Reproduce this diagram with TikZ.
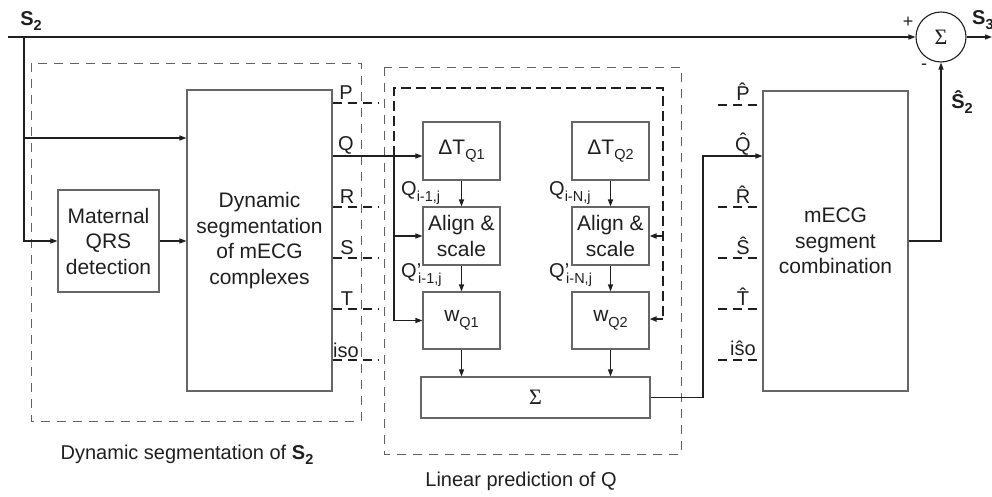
\documentclass[tikz,border=0pt]{standalone}
\usepackage{fontspec}
\setmainfont{Liberation Sans}
\newfontfamily\seriffam{Liberation Serif}
\usetikzlibrary{arrows.meta}
\newcommand\fsz[1]{\fontsize{#1}{#1}\selectfont}
\newcommand\sbs[1]{\raisebox{-0.5ex}{\fsz{14.5}#1}}
\newcommand\prm{’\kern-3pt}
\begin{document}
\begin{tikzpicture}[x=1pt,y=-1pt,
  every node/.style={text=black!88},
  blk/.style={draw=black!60, line width=1.1pt, inner sep=0pt, align=center,
    font=\fontsize{21}{25.5}\selectfont},
  lbl/.style={inner sep=0pt, font=\fsz{20}},
  ln/.style={draw=black!88, line width=1.1pt},
  tip/.style={-{Triangle[length=7pt,width=5pt]}},
  arr/.style={ln, tip},
  dsh/.style={draw=black!88, line width=1.8pt, dash pattern=on 9pt off 6pt},
  thk/.style={draw=black!88, line width=2pt, dash pattern=on 10pt off 5pt},
  grp/.style={draw=black!62, line width=0.9pt, dash pattern=on 9pt off 7pt},
]
\useasboundingbox (0,0) rectangle (992,497);

% group boxes
\draw[grp] (31,63) rectangle (361,421);
\draw[grp] (384,67) rectangle (681,454);
\node[lbl, font=\fsz{20}] (gl1) at (187,455) {Dynamic segmentation of \textbf{S}\sbs{\textbf{2}}};
\node[lbl, font=\fsz{20}] (gl2) at (521,481) {Linear prediction of Q};

% blocks
\node[blk, minimum width=101pt, minimum height=102pt] (mqrs) at (108.5,241) {Maternal\\QRS\\detection};
\node[blk, minimum width=145pt, minimum height=301pt] (dseg) at (259.5,240.5) {Dynamic\\segmentation\\of mECG\\complexes};
\node[blk, minimum width=77pt, minimum height=58pt] (dt1) at (461.5,151) {ΔT\sbs{Q1}};
\node[blk, minimum width=77pt, minimum height=58pt] (dt2) at (610.5,151) {ΔT\sbs{Q2}};
\node[blk, minimum width=77pt, minimum height=58pt] (al1) at (461.5,236) {Align \&\\scale};
\node[blk, minimum width=77pt, minimum height=58pt] (al2) at (610.5,236) {Align \&\\scale};
\node[blk, minimum width=77pt, minimum height=57pt] (w1) at (461.5,320.5) {w\sbs{Q1}};
\node[blk, minimum width=77pt, minimum height=57pt] (w2) at (610.5,320.5) {w\sbs{Q2}};
\node[blk, minimum width=229pt, minimum height=41pt] (sig) at (535.5,397.5) {\seriffam\fsz{22}Σ};
\node[blk, minimum width=145pt, minimum height=300pt] (comb) at (835.5,241) {mECG\\segment\\combination};
\node[draw=black!88, line width=1.1pt, circle, minimum size=50pt, inner sep=0pt] (circ) at (941,37) {\seriffam\fsz{22}Σ};

% signal labels
\node[lbl, font=\bfseries\fsz{20}] (s2) at (31,21) {S\sbs{2}};
\node[lbl, font=\bfseries\fsz{20}, anchor=west] (s3) at (972,20) {S\sbs{3}};
\node[lbl, font=\fsz{18}] (plus) at (908,22) {+};
\node[lbl, font=\fsz{18}] (minus) at (924,67) {-};
\node[lbl, font=\bfseries\fsz{20}] (s2h) at (962,102) {\^S\sbs{2}};

% dseg output labels
\node[lbl] (lP) at (346,93) {P};
\node[lbl] (lQ) at (346,145) {Q};
\node[lbl] (lR) at (347,197) {R};
\node[lbl] (lS) at (347,248) {S};
\node[lbl] (lT) at (347,299) {T};
\node[lbl] (liso) at (346,350) {iso};

% comb input labels
\node[lbl] (hP) at (743,92) {\^P};
\node[lbl] (hQ) at (743,144) {\^Q};
\node[lbl] (hR) at (743,195) {\^R};
\node[lbl] (hS) at (743,246) {\^S};
\node[lbl] (hT) at (743,297) {\^T};
\node[lbl] (hiso) at (743,348) {i\^so};

% Q labels
\node[lbl, anchor=west] (q1) at (401,193) {Q\sbs{i-1,j}};
\node[lbl, anchor=west] (q1p) at (401,275) {Q\prm\sbs{i-1,j}};
\node[lbl, anchor=west] (q2) at (549,193) {Q\sbs{i-N,j}};
\node[lbl, anchor=west] (q2p) at (549,275) {Q\prm\sbs{i-N,j}};

% coordinates
\coordinate (in) at (8,37);
\coordinate (j1) at (24,37);
\coordinate (j2) at (24,138);
\coordinate (yP) at (0,103);
\coordinate (yQ) at (0,156);
\coordinate (yR) at (0,207);
\coordinate (yS) at (0,258);
\coordinate (yT) at (0,309);
\coordinate (yI) at (0,360);
\coordinate (eP) at (379,103);
\coordinate (eR) at (379,207);
\coordinate (eS) at (379,258);
\coordinate (eT) at (379,309);
\coordinate (eI) at (379,360);
\coordinate (jq) at (394,156);
\coordinate (ja1) at (394,236);
\coordinate (jw1) at (394,320.5);
\coordinate (tl) at (394,88);
\coordinate (tr) at (663,88);
\coordinate (ja2) at (663,236);
\coordinate (br) at (663,319);
\coordinate (jc) at (703,397.5);
\coordinate (sP) at (718,105);
\coordinate (sR) at (718,207);
\coordinate (sS) at (718,258);
\coordinate (sT) at (718,309);
\coordinate (sI) at (718,360);
\coordinate (out) at (992,37);

% S2 distribution
\draw[arr] (in) -- (circ.west);
\draw[arr] (j1) |- (mqrs.west);
\draw[arr] (j2) -- (j2 -| dseg.west);
\draw[arr] (mqrs.east) -- (mqrs.east -| dseg.west);

% dseg outputs
\draw[dsh] (dseg.east |- yP) -- (eP);
\draw[dsh] (dseg.east |- yR) -- (eR);
\draw[dsh] (dseg.east |- yS) -- (eS);
\draw[dsh] (dseg.east |- yT) -- (eT);
\draw[dsh] (dseg.east |- yI) -- (eI);
\draw[arr] (dseg.east |- yQ) -- (dt1.west |- yQ);

% Q feeding
\draw[ln] (jq) -- (jw1);
\draw[arr] (ja1) -- (al1.west |- ja1);
\draw[arr] (jw1) -- (w1.west |- jw1);
\draw[thk] (jq) -- (tl) -- (tr) -- (br);
\draw[thk, tip, dash pattern=on 8pt off 0pt] (br) -- (w2.east |- br);
\draw[thk, tip, dash pattern=on 8pt off 0pt] (ja2) -- (al2.east |- ja2);

% vertical chain
\draw[arr] (dt1) -- (al1);
\draw[arr] (al1) -- (w1);
\draw[arr] (w1.south) -- (w1.south |- sig.north);
\draw[arr] (dt2) -- (al2);
\draw[arr] (al2) -- (w2);
\draw[arr] (w2.south) -- (w2.south |- sig.north);

% to combination
\draw[arr] (sig.east) -- (jc) |- (comb.west |- yQ);
\draw[dsh] (sP) -- (comb.west |- sP);
\draw[dsh] (sR) -- (comb.west |- sR);
\draw[dsh] (sS) -- (comb.west |- sS);
\draw[dsh] (sT) -- (comb.west |- sT);
\draw[dsh] (sI) -- (comb.west |- sI);

% output
\draw[arr] (comb.east) -| (circ.south);
\draw[arr] (circ.east) -- (out);
\end{tikzpicture}
\end{document}
